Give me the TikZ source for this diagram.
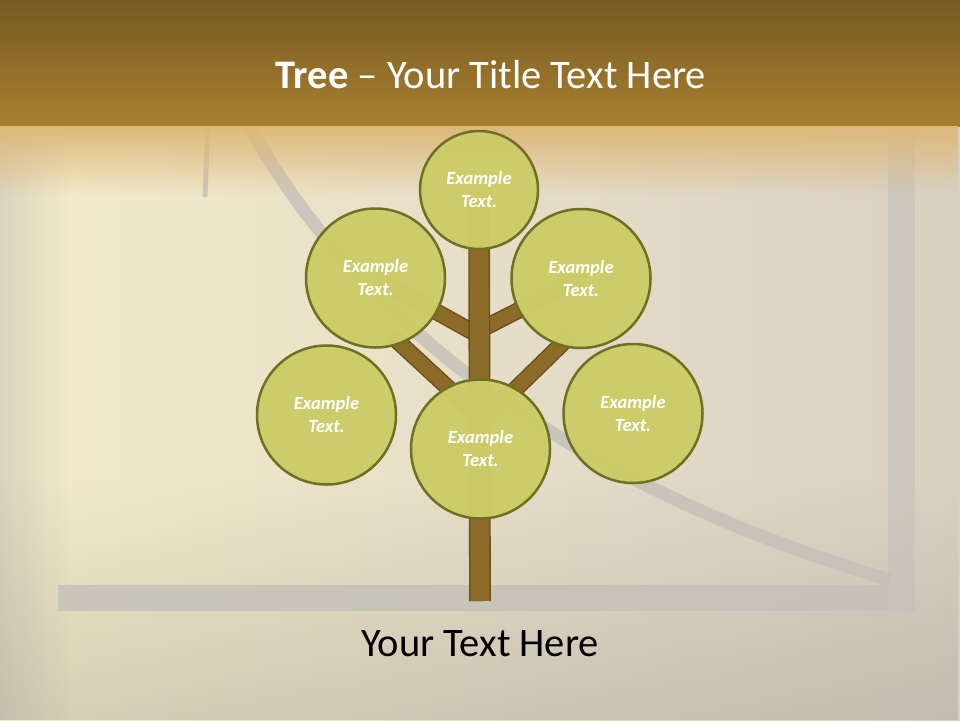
\documentclass[tikz,border=0pt]{standalone}
\usepackage{fontspec}
\setmainfont{Carlito}
\usepackage{tikz}
\usetikzlibrary{fadings,positioning}
\definecolor{hdrtop}{HTML}{765A21}
\definecolor{hdrbot}{HTML}{A98031}
\definecolor{hdrfade}{HTML}{DDB878}
\definecolor{creamL}{HTML}{F3ECCB}
\definecolor{creamR}{HTML}{D9D0C3}
\definecolor{decogrey}{HTML}{C3C0B9}
\definecolor{bark}{HTML}{8C6A28}
\definecolor{barkdark}{HTML}{6A4F1D}
\definecolor{leaffill}{HTML}{CDCC69}
\definecolor{leafedge}{HTML}{6F7022}
\tikzset{%
	leaf/.style      = {circle, draw=leafedge, line width=2.5pt, fill=leaffill, fill opacity=0.98, text opacity=1, minimum size=139pt, inner sep=0pt, align=center, text=white, font=\fontsize{18.5}{23}\selectfont\bfseries\itshape},
	smallleaf/.style = {leaf, minimum size=118pt},
	branch/.style    = {draw=barkdark, line width=1.4pt, double=bark, double distance=14pt},
	trunk/.style     = {branch, double distance=19pt},
	deco/.style      = {decogrey, opacity=0.8},
	bigtext/.style   = {anchor=base, font=\fontsize{40.5}{48}\selectfont},
}

\begin{document}
\begin{tikzpicture}[x=1pt,y=-1pt]
		\useasboundingbox (0,0) rectangle (960,720);
		
		% backdrop
		\shade[left color=creamL, right color=creamR] (0,0) rectangle (960,720);
		\fill[creamR!90!black, opacity=0.5, path fading=east] (0,0) rectangle (70,720);
		\fill[black!40!creamR, opacity=0.25, path fading=north] (0,480) rectangle (960,720);
		
		\fill[deco] (58,585) rectangle (888,611);
		\fill[deco, opacity=0.55] (888,130) rectangle (915,611);
		\draw[deco, line width=13pt] (246,120) .. controls (335,285) and (520,470) .. (890,580);
		\draw[deco, line width=5pt] (208,120) -- (205,197);
		
		\shade[top color=hdrtop, bottom color=hdrbot] (0,0) rectangle (960,126);
		\fill[hdrfade, path fading=south] (0,126) rectangle (960,195);
		
		% tree
		\coordinate (topc) at (479,190);
		\coordinate (ulc) at (375.5,278);
		\coordinate (urc) at (581,278.5);
		\coordinate (base) at (480,601);
		\coordinate (forkA) at (480,336);
		\coordinate (forkB) at (480,330);
		\coordinate (forkC) at (472,410);
		\coordinate (tipC) at (392,336);
		\coordinate (forkD) at (488,416);
		\coordinate (tipD) at (572,334);
		
		\draw[branch] (forkA) -- (ulc);
		\draw[branch] (forkB) -- (urc);
		\draw[branch] (forkC) -- (tipC);
		\draw[branch] (forkD) -- (tipD);
		\draw[trunk] (topc) -- (base);
		
		\node[smallleaf] (top) at (topc) {Example\\Text.};
		\foreach \name/\pos in {ul/ulc, ur/urc, ll/{326.5,415}, lr/{633,413.5}, bc/{480.5,449}} \node[leaf] (\name) at (\pos) {Example\\Text.};
		
		% texts
		\node[bigtext, text=white] (title) at (491,88) {\textbf{Tree} -- Your Title Text Here};
		\node[bigtext, text=black] (caption) at (480,656) {Your Text Here};
	\end{tikzpicture}
\end{document}
